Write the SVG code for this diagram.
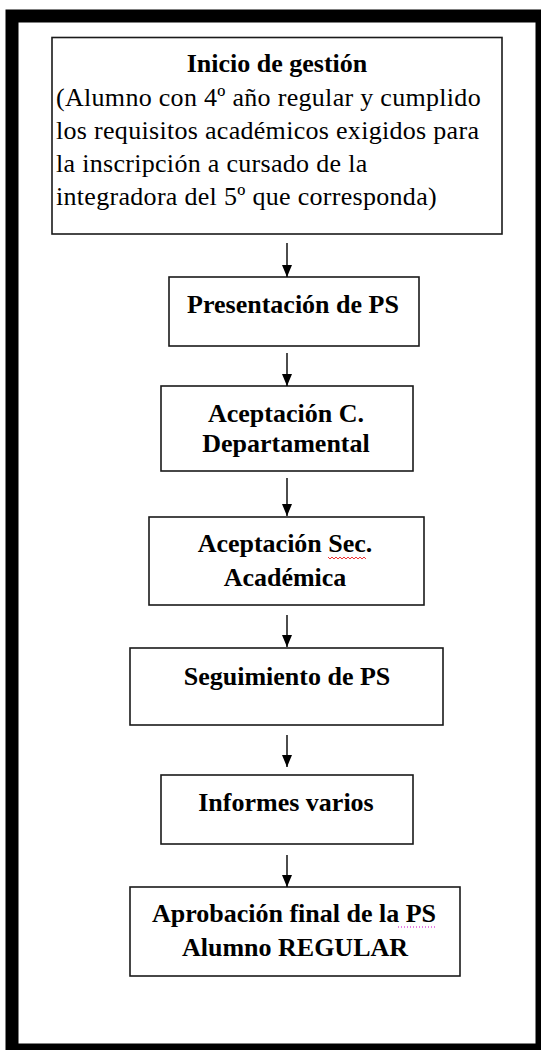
<svg xmlns="http://www.w3.org/2000/svg" width="541" height="1050" viewBox="0 0 541 1050">
<style>
.box{fill:#fff;stroke:#1a1a1a;stroke-width:1.6}
.t{font-family:"Liberation Serif","Times New Roman","DejaVu Serif",serif;font-size:26px;fill:#000}
.r{font-weight:normal;letter-spacing:0.3px}
.b{font-weight:bold;text-anchor:middle}
.conn line{stroke:#000;stroke-width:1.4}
</style>
<defs>
<marker id="ah" markerWidth="12" markerHeight="10" refX="12" refY="5" orient="auto" markerUnits="userSpaceOnUse" viewBox="0 0 12 10">
<path d="M0,0 L12,5 L0,10 Z" fill="#000"/>
</marker>
</defs>
<rect x="0" y="0" width="541" height="1050" fill="#fff"/>
<rect x="12" y="16" width="530" height="1034" fill="#fff" stroke="#000" stroke-width="13"/>

<g id="n1">
<rect class="box" x="52" y="37.5" width="450" height="196.5"/>
<text class="t b" x="277" y="72">Inicio de gestión</text>
<text class="t r" x="56" y="106">(Alumno con 4º año regular y cumplido</text>
<text class="t r" x="56" y="139">los requisitos académicos exigidos para</text>
<text class="t r" x="56" y="172">la inscripción a cursado de la</text>
<text class="t r" x="56" y="205">integradora del 5º que corresponda)</text>
</g>
<g id="n2">
<rect class="box" x="169" y="277" width="250" height="69"/>
<text class="t b" x="293" y="313">Presentación de PS</text>
</g>
<g id="n3">
<rect class="box" x="161" y="386" width="252" height="85"/>
<text class="t b" x="286" y="422">Aceptación C.</text>
<text class="t b" x="286" y="452">Departamental</text>
</g>
<g id="n4">
<rect class="box" x="149" y="517" width="275" height="88"/>
<text class="t b" x="285" y="552">Aceptación Sec.</text>
<text class="t b" x="285" y="586">Académica</text>
<path d="M328,557 l2,2 l2,-2 l2,2 l2,-2 l2,2 l2,-2 l2,2 l2,-2 l2,2 l2,-2 l2,2 l2,-2 l2,2 l2,-2 l2,2 l2,-2 l2,2 l2,-2 l2,2" fill="none" stroke="#e00" stroke-width="0.8"/>
</g>
<g id="n5">
<rect class="box" x="130" y="648" width="313" height="77"/>
<text class="t b" x="287" y="685">Seguimiento de PS</text>
</g>
<g id="n6">
<rect class="box" x="161" y="775" width="252" height="69"/>
<text class="t b" x="286" y="811">Informes varios</text>
</g>
<g id="n7">
<rect class="box" x="130" y="887" width="330" height="89"/>
<text class="t b" x="294" y="922">Aprobación final de la PS</text>
<text class="t b" x="295" y="956">Alumno REGULAR</text>
<line x1="398" y1="927" x2="437" y2="927" stroke="#c0c" stroke-width="1" stroke-dasharray="1,2"/>
</g>

<g id="connectors" class="conn">
<line x1="287" y1="243" x2="287" y2="277" marker-end="url(#ah)"/>
<line x1="287" y1="353" x2="287" y2="386" marker-end="url(#ah)"/>
<line x1="287" y1="478" x2="287" y2="516" marker-end="url(#ah)"/>
<line x1="287" y1="615" x2="287" y2="647" marker-end="url(#ah)"/>
<line x1="287" y1="735" x2="287" y2="767" marker-end="url(#ah)"/>
<line x1="287" y1="855" x2="287" y2="887" marker-end="url(#ah)"/>
</g>
</svg>
